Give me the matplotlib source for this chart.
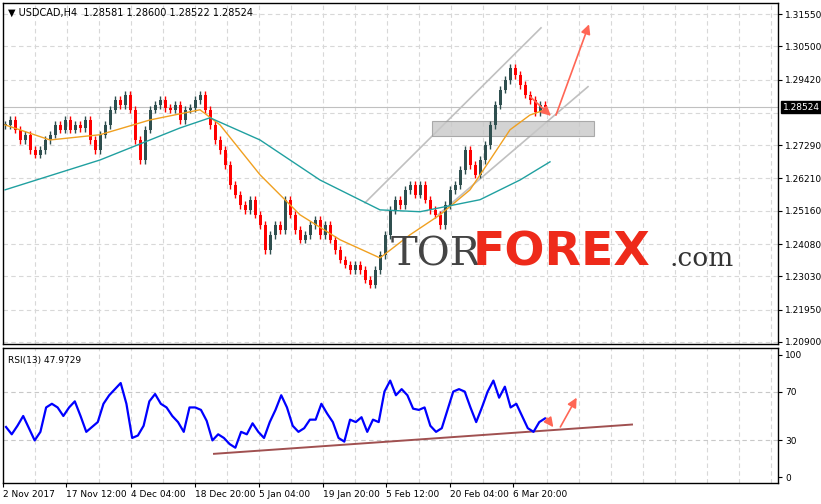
import numpy as np
import matplotlib
matplotlib.use("Agg")
import matplotlib.pyplot as plt
from matplotlib.patches import Rectangle

# H4 closes (one value per plotted bar)
closes = [1.2795, 1.2811, 1.2779, 1.2746, 1.2763, 1.2714, 1.2698, 1.2714, 1.2746, 1.2763,
          1.2795, 1.2779, 1.2811, 1.2779, 1.2795, 1.2785, 1.2811, 1.2746, 1.2714, 1.2763,
          1.2795, 1.2844, 1.2876, 1.2860, 1.2893, 1.2844, 1.2746, 1.2681, 1.2779, 1.2844,
          1.2860, 1.2876, 1.2850, 1.2844, 1.2860, 1.2811, 1.2844, 1.2850, 1.2876, 1.2893,
          1.2844, 1.2795, 1.2746, 1.2714, 1.2665, 1.2600, 1.2568, 1.2535, 1.2519, 1.2552,
          1.2503, 1.2470, 1.2389, 1.2438, 1.2470, 1.2454, 1.2552, 1.2503, 1.2454, 1.2422,
          1.2438, 1.2470, 1.2487, 1.2438, 1.2470, 1.2422, 1.2389, 1.2357, 1.2341, 1.2324,
          1.2341, 1.2324, 1.2292, 1.2276, 1.2324, 1.2373, 1.2438, 1.2519, 1.2552, 1.2535,
          1.2584, 1.2600, 1.2568, 1.2600, 1.2552, 1.2519, 1.2503, 1.2470, 1.2535, 1.2584,
          1.2600, 1.2649, 1.2714, 1.2665, 1.2633, 1.2681, 1.2730, 1.2795, 1.2860, 1.2909,
          1.2941, 1.2980, 1.2957, 1.2925, 1.2893, 1.2876, 1.2837, 1.2860, 1.2852]
wick = 0.0012

# moving averages (bar index, price)
ma_fast_x = [0, 9, 19, 29, 39, 43, 51, 59, 67, 75, 81, 87, 93, 97, 101, 105, 108]
ma_fast_y = [1.2795, 1.2746, 1.2763, 1.2811, 1.2844, 1.2795, 1.2633, 1.2503, 1.2422, 1.2363,
             1.2438, 1.2503, 1.2584, 1.2681, 1.2779, 1.2827, 1.2844]
ma_slow_x = [0, 19, 35, 41, 51, 63, 75, 83, 95, 103, 109]
ma_slow_y = [1.2584, 1.2681, 1.2785, 1.2818, 1.2746, 1.2616, 1.2519, 1.2513, 1.2552, 1.2616, 1.2675]

# RSI(13)
rsi = [41, 35, 42, 50, 40, 30, 37, 57, 60, 57, 50, 57, 62, 50, 37, 41, 45, 60, 67, 72,
       77, 60, 32, 34, 42, 62, 68, 60, 57, 50, 45, 37, 57, 57, 55, 46, 30, 35, 32, 27,
       24, 37, 35, 44, 37, 32, 45, 55, 67, 57, 42, 37, 40, 47, 47, 60, 52, 45, 32, 29,
       47, 45, 49, 37, 47, 45, 70, 79, 67, 72, 67, 56, 55, 57, 42, 37, 40, 55, 70, 72,
       70, 57, 45, 57, 70, 79, 65, 74, 57, 60, 50, 40, 37, 45, 48]

price_ticks = [1.31550, 1.30500, 1.29420, 1.27290, 1.26210, 1.25160,
               1.24080, 1.23030, 1.21950, 1.20900]
date_labels = ["2 Nov 2017", "17 Nov 12:00", "4 Dec 04:00", "18 Dec 20:00", "5 Jan 04:00",
               "19 Jan 20:00", "5 Feb 12:00", "20 Feb 04:00", "6 Mar 20:00"]
date_pos = [-0.4, 12.2, 25.2, 38.0, 50.8, 63.6, 76.2, 89.0, 101.6]

W, H = 821, 504
fig = plt.figure(figsize=(W / 100, H / 100), dpi=100)
fig.patch.set_facecolor("white")
ax = fig.add_axes([3 / W, (H - 344) / H, 775 / W, 341 / H])
ar = fig.add_axes([3 / W, (H - 483) / H, 775 / W, 135 / H])
xlim = (-0.4, 154.6)
grid_kw = dict(color="#d8d8d8", ls=(0, (4, 3)), lw=0.8, zorder=0)
vgrid = np.arange(6.0, 155, 6.4)

for a in (ax, ar):
    a.set_xlim(*xlim)
    for s in a.spines.values():
        s.set_linewidth(1.0)
    for v in vgrid:
        a.axvline(v, **grid_kw)

# price panel
ax.set_ylim(1.2090 - 0.0003247 * 2, 1.3155 + 0.0003247 * 11)
for t in price_ticks + [1.28340]:
    ax.axhline(t, **grid_kw)
opens = [closes[0]] + closes[:-1]
for i, (o, c) in enumerate(zip(opens, closes)):
    col = "#2f4f4f" if c >= o else "#ff0000"
    ax.vlines(i, min(o, c) - wick, max(o, c) + wick, color=col, lw=1.0, zorder=3)
    ax.add_patch(Rectangle((i - 0.3, min(o, c)), 0.6, max(abs(c - o), 0.0002),
                           color=col, lw=0, zorder=3))
ax.plot(ma_fast_x, ma_fast_y, color="#f0a020", lw=1.0, zorder=4)
ax.plot(ma_slow_x, ma_slow_y, color="#20a0a0", lw=1.0, zorder=4)

ax.plot([72, 107.2], [1.2542, 1.3110], color="#c0c0c0", lw=1.2, zorder=2)
ax.plot([86.6, 116.6], [1.2503, 1.2919], color="#c0c0c0", lw=1.2, zorder=2)
ax.add_patch(Rectangle((85.4, 1.2759), 32.4, 0.0049, facecolor="#c8c8c8",
                       edgecolor="#999999", alpha=0.8, lw=0.8, zorder=2))
arr = dict(arrowstyle="-|>", color="#ff6655", lw=1.2, mutation_scale=14)
ax.annotate("", xy=(109.6, 1.2818), xytext=(104.6, 1.2893), arrowprops=arr, zorder=6)
ax.annotate("", xy=(117.0, 1.3130), xytext=(110.0, 1.2818), arrowprops=arr, zorder=6)

ax.axhline(1.28524, color="#c0c0c0", lw=0.8, zorder=1)
ax.set_yticks(price_ticks)
ax.set_yticklabels([f"{t:.5f}" for t in price_ticks])
ax.yaxis.tick_right()
ax.tick_params(axis="y", labelsize=6.5, length=3, pad=2)
ax.set_xticks([])
ax.text(1.006, 1.28524, "1.28524", transform=ax.get_yaxis_transform(), fontsize=6.5,
        color="white", va="center", ha="left",
        bbox=dict(facecolor="black", edgecolor="black", pad=1.0))
ax.text(0.006, 0.985, "\u25bc USDCAD,H4  1.28581 1.28600 1.28522 1.28524",
        transform=ax.transAxes, fontsize=7, va="top", ha="left")

# watermark
base = 1 - 263 / 341
ax.text(388 / 775, base, "TOR", transform=ax.transAxes, fontsize=29,
        color="#444444", family="DejaVu Serif", va="baseline", ha="left", zorder=5)
ax.text(470 / 775, base, "FOREX", transform=ax.transAxes, fontsize=34,
        color="#ee2a1a", weight="bold", va="baseline", ha="left", zorder=5)
ax.text(666 / 775, base, ".com", transform=ax.transAxes, fontsize=19,
        color="#333333", family="DejaVu Serif", va="baseline", ha="left", zorder=5)

# RSI panel
ar.set_ylim(-4.9, 105.7)
for t in (70, 30):
    ar.axhline(t, color="#c8c8c8", ls=(0, (4, 3)), lw=0.8, zorder=0)
rsi_x = np.linspace(0.2, len(closes) - 1, len(rsi))
ar.plot(rsi_x, rsi, color="#0000ff", lw=1.6, zorder=3)
ar.plot([41.8, 125.4], [19, 43], color="#a05050", lw=1.4, zorder=2)
ar.annotate("", xy=(110, 39), xytext=(108, 50), arrowprops=arr, zorder=6)
ar.annotate("", xy=(114.6, 67), xytext=(110.8, 39), arrowprops=arr, zorder=6)
ar.set_yticks([100, 70, 30, 0])
ar.yaxis.tick_right()
ar.tick_params(axis="y", labelsize=6.5, length=3, pad=2)
ar.set_xticks(date_pos)
ar.set_xticklabels(date_labels, ha="left")
ar.tick_params(axis="x", labelsize=6.5, length=3, pad=2)
ar.text(0.006, 0.94, "RSI(13) 47.9729", transform=ar.transAxes, fontsize=6.5,
        va="top", ha="left")

fig.savefig("out.png", dpi=100)
